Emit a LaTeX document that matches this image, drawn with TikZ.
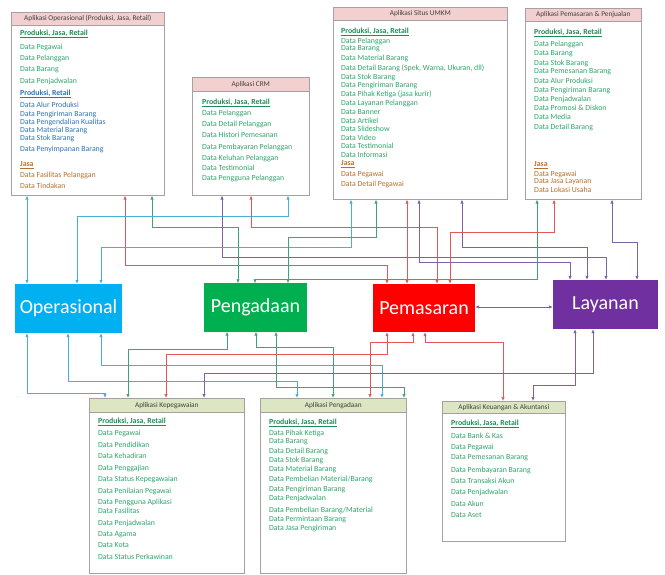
\documentclass[tikz,border=0pt]{standalone}
\usepackage{fontspec}
\setmainfont{Carlito}
\usepackage{xcolor}
\usetikzlibrary{arrows.meta}

\definecolor{opscol}{HTML}{00B0F0}
\definecolor{pengcol}{HTML}{00B050}
\definecolor{pemcol}{HTML}{FF0000}
\definecolor{laycol}{HTML}{7030A0}
\definecolor{cyanl}{HTML}{46B1D6}
\definecolor{greenl}{HTML}{3FA37A}
\definecolor{redl}{HTML}{E2585A}
\definecolor{purl}{HTML}{7D62A6}
\definecolor{boxgray}{HTML}{A6A0A0}
\definecolor{headpink}{HTML}{F2D0D0}
\definecolor{headolive}{HTML}{DCE6C2}
\definecolor{headtext}{HTML}{404040}
\definecolor{itgreen}{HTML}{2EA66A}
\definecolor{grpgreen}{HTML}{1E8C55}
\definecolor{itblue}{HTML}{2E74B5}
\definecolor{itbrown}{HTML}{B8702D}

\tikzset{
  mainbox/.style={text=white, inner sep=0pt, font=\fontsize{20}{24}\selectfont},
  appbox/.style={draw=boxgray, line width=0.6pt, fill=white, anchor=north west, inner sep=0pt},
  headbox/.style={draw=boxgray, line width=0.6pt, anchor=north west, inner sep=0pt,
    text=headtext, font=\fontsize{7.3}{8}\selectfont},
  item/.style={anchor=west, inner sep=0pt, font=\fontsize{7.8}{9}\selectfont},
  grp/.style={anchor=west, inner sep=0pt, font=\fontsize{7.8}{9}\selectfont\bfseries},
  link/.style={line width=0.7pt, {Latex[length=4pt,width=3.4pt]}-{Latex[length=4pt,width=3.4pt]}},
}

\begin{document}
\begin{tikzpicture}[x=1pt,y=-1pt]
\fill[white] (0,0) rectangle (665,575);
\useasboundingbox (0,0) rectangle (665,575);

% main blocks
\node[mainbox, fill=opscol, minimum width=107pt, minimum height=49pt] (ops) at (68.5,308.5) {Operasional};
\node[mainbox, fill=pengcol, minimum width=103pt, minimum height=48pt] (peng) at (255.5,307.5) {Pengadaan};
\node[mainbox, fill=pemcol, minimum width=102pt, minimum height=48pt] (pem) at (424,308) {Pemasaran};
\node[mainbox, fill=laycol, minimum width=105pt, minimum height=49pt] (lay) at (605.5,304.5) {Layanan};

% application boxes, top row
\node[appbox, minimum width=153pt, minimum height=183pt] (aops) at (11,12) {};
\node[headbox, fill=headpink, minimum width=153pt, minimum height=13pt] (aops-h) at (aops.north west) {Aplikasi Operasional (Produksi, Jasa, Retail)};
\node[appbox, minimum width=117pt, minimum height=118pt] (acrm) at (192,77) {};
\node[headbox, fill=headpink, minimum width=117pt, minimum height=14pt] (acrm-h) at (acrm.north west) {Aplikasi CRM};
\node[appbox, minimum width=174pt, minimum height=192pt] (aumkm) at (333,7) {};
\node[headbox, fill=headpink, minimum width=174pt, minimum height=13pt] (aumkm-h) at (aumkm.north west) {Aplikasi Situs UMKM};
\node[appbox, minimum width=116pt, minimum height=191pt] (apem) at (525,8) {};
\node[headbox, fill=headpink, minimum width=116pt, minimum height=13pt] (apem-h) at (apem.north west) {Aplikasi Pemasaran \& Penjualan};

% application boxes, bottom row
\node[appbox, minimum width=155pt, minimum height=175pt] (akep) at (89,398) {};
\node[headbox, fill=headolive, minimum width=155pt, minimum height=14pt] (akep-h) at (akep.north west) {Aplikasi Kepegawaian};
\node[appbox, minimum width=146pt, minimum height=175pt] (apeng) at (260,398) {};
\node[headbox, fill=headolive, minimum width=146pt, minimum height=14pt] (apeng-h) at (apeng.north west) {Aplikasi Pengadaan};
\node[appbox, minimum width=123pt, minimum height=140pt] (akeu) at (442,401) {};
\node[headbox, fill=headolive, minimum width=123pt, minimum height=12pt] (akeu-h) at (akeu.north west) {Aplikasi Keuangan \& Akuntansi};

%Text
\node[grp, text=grpgreen] (aops-g1) at (20,34) {\underline{Produksi, Jasa, Retail}};
\foreach \yy/\tx [count=\i] in {47/Data Pegawai, 58/Data Pelanggan, 70/Data Barang, 81/Data Penjadwalan}
  \node[item, text=itgreen] (aops-a\i) at (20,\yy) {\tx};
\node[grp, text=itblue] (aops-g2) at (20,94) {\underline{Produksi, Retail}};
\foreach \yy/\tx [count=\i] in {105/Data Alur Produksi, 114/Data Pengiriman Barang, 122/Data Pengendalian Kualitas,
    130/Data Material Barang, 138/Data Stok Barang, 149/Data Penyimpanan Barang}
  \node[item, text=itblue] (aops-b\i) at (20,\yy) {\tx};
\node[grp, text=itbrown] (aops-g3) at (20,165) {\underline{Jasa}};
\foreach \yy/\tx [count=\i] in {175/Data Fasilitas Pelanggan, 186/Data Tindakan}
  \node[item, text=itbrown] (aops-c\i) at (20,\yy) {\tx};

\node[grp, text=grpgreen] (acrm-g1) at (202,103) {\underline{Produksi, Jasa, Retail}};
\foreach \yy/\tx [count=\i] in {113/Data Pelanggan, 124/Data Detail Pelanggan, 135/Data Histori Pemesanan,
    147/Data Pembayaran Pelanggan, 158/Data Keluhan Pelanggan, 168/Data Testimonial, 178/Data Pengguna Pelanggan}
  \node[item, text=itgreen] (acrm-a\i) at (202,\yy) {\tx};

\node[grp, text=grpgreen] (aumkm-g1) at (341,32) {\underline{Produksi, Jasa, Retail}};
\foreach \yy/\tx [count=\i] in {41/Data Pelanggan, 49/Data Barang, 58/Data Material Barang,
    68/{Data Detail Barang (Spek, Warna, Ukuran, dll)}, 77/Data Stok Barang, 85/Data Pengiriman Barang,
    94/Data Pihak Ketiga (jasa kurir), 103/Data Layanan Pelanggan, 112/Data Banner, 121/Data Artikel,
    129/Data Slideshow, 138/Data Video, 146/Data Testimonial, 155/Data Informasi}
  \node[item, text=itgreen] (aumkm-a\i) at (341,\yy) {\tx};
\node[grp, text=itbrown] (aumkm-g2) at (341,164) {\underline{Jasa}};
\foreach \yy/\tx [count=\i] in {174/Data Pegawai, 184/Data Detail Pegawai}
  \node[item, text=itbrown] (aumkm-c\i) at (341,\yy) {\tx};

\node[grp, text=grpgreen] (apem-g1) at (534,33) {\underline{Produksi, Jasa, Retail}};
\foreach \yy/\tx [count=\i] in {44/Data Pelanggan, 54/Data Barang, 63/Data Stok Barang, 72/Data Pemesanan Barang,
    81/Data Alur Produksi, 90/Data Pengiriman Barang, 99/Data Penjadwalan, 108/Data Promosi \& Diskon,
    117/Data Media, 127/Data Detail Barang}
  \node[item, text=itgreen] (apem-a\i) at (534,\yy) {\tx};
\node[grp, text=itbrown] (apem-g2) at (534,165) {\underline{Jasa}};
\foreach \yy/\tx [count=\i] in {174/Data Pegawai, 182/Data Jasa Layanan, 190/Data Lokasi Usaha}
  \node[item, text=itbrown] (apem-c\i) at (534,\yy) {\tx};

\node[grp, text=grpgreen] (akep-g1) at (98,422) {\underline{Produksi, Jasa, Retail}};
\foreach \yy/\tx [count=\i] in {433/Data Pegawai, 445/Data Pendidikan, 456/Data Kehadiran, 468/Data Penggajian,
    479/Data Status Kepegawaian, 491/Data Penilaian Pegawai, 502/Data Pengguna Aplikasi, 511/Data Fasilitas,
    523/Data Penjadwalan, 535/Data Agama, 545/Data Kota, 557/Data Status Perkawinan}
  \node[item, text=itgreen] (akep-a\i) at (98,\yy) {\tx};

\node[grp, text=grpgreen] (apeng-g1) at (269,423) {\underline{Produksi, Jasa, Retail}};
\foreach \yy/\tx [count=\i] in {433/Data Pihak Ketiga, 442/Data Barang, 451/Data Detail Barang, 460/Data Stok Barang,
    469/Data Material Barang, 479/{Data Pembelian Material/Barang}, 489/Data Pengiriman Barang,
    498/Data Penjadwalan, 510/{Data Pembelian Barang/Material}, 519/Data Permintaan Barang, 528/Data Jasa Pengiriman}
  \node[item, text=itgreen] (apeng-a\i) at (269,\yy) {\tx};

\node[grp, text=grpgreen] (akeu-g1) at (451,424) {\underline{Produksi, Jasa, Retail}};
\foreach \yy/\tx [count=\i] in {436/Data Bank \& Kas, 447/Data Pegawai, 458/Data Pemesanan Barang,
    470/Data Pembayaran Barang, 481/Data Transaksi Akun, 492/Data Penjadwalan, 504/Data Akun, 515/Data Aset}
  \node[item, text=itgreen] (akeu-a\i) at (451,\yy) {\tx};

% links to the top row
\draw[link, cyanl] (aops.south -| 27,0) -- (ops.north -| 27,0);
\draw[link, redl] (aops.south -| 125,0) |- (387,265) -- (pem.north -| 387,0);
\draw[link, greenl] (aops.south -| 152,0) |- (238,227) -- (peng.north -| 238,0);
\draw[link, cyanl] (acrm.south -| 288,0) |- (77,216) -- (ops.north -| 77,0);
\draw[link, purl] (acrm.south -| 222,0) |- (606,257) -- (lay.north -| 606,0);
\draw[link, redl] (acrm.south -| 251,0) |- (437,227) -- (pem.north -| 437,0);
\draw[link, cyanl] (aumkm.south -| 351,0) |- (101,247) -- (ops.north -| 101,0);
\draw[link, greenl] (aumkm.south -| 376,0) |- (288,237) -- (peng.north -| 288,0);
\draw[link, redl] (aumkm.south -| 407,0) -- (pem.north -| 407,0);
\draw[link, purl] (aumkm.south -| 419,0) |- (570,262) -- (lay.north -| 570,0);
\draw[link, purl] (aumkm.south -| 462,0) |- (587,247) -- (lay.north -| 587,0);
\draw[link, greenl] (apem.south -| 537,0) |- (255,279) -- (peng.north -| 255,0);
\draw[link, redl] (apem.south -| 554,0) |- (450,232) -- (pem.north -| 450,0);
\draw[link, purl] (apem.south -| 612,0) |- (637,242) -- (lay.north -| 637,0);
\draw[link, purl] (pem.east |- 0,307) -- (lay.west |- 0,307);

% links to the bottom row
\draw[link, cyanl] (ops.south -| 27,0) |- (105,393) -- (akep.north -| 105,0);
\draw[link, cyanl] (ops.south -| 68,0) |- (297,381) -- (apeng.north -| 297,0);
\draw[link, cyanl] (ops.south -| 101,0) |- (382,365) -- (apeng.north -| 382,0);
\draw[link, greenl] (peng.south -| 227,0) |- (128,349) -- (akep.north -| 128,0);
\draw[link, greenl] (peng.south -| 256,0) |- (333,347) -- (apeng.north -| 333,0);
\draw[link, greenl] (peng.south -| 276,0) |- (404,387) -- (apeng.north -| 404,0);
\draw[link, redl] (pem.south -| 387,0) |- (166,354) -- (akep.north -| 166,0);
\draw[link, redl] (pem.south -| 413,0) |- (370,342) -- (apeng.north -| 370,0);
\draw[link, redl] (pem.south -| 425,0) |- (503,342) -- (akeu.north -| 503,0);
\draw[link, purl] (lay.south -| 593,0) |- (204,373) -- (akep.north -| 204,0);
\draw[link, purl] (lay.south -| 575,0) |- (533,385) -- (akeu.north -| 533,0);
\end{tikzpicture}
\end{document}
